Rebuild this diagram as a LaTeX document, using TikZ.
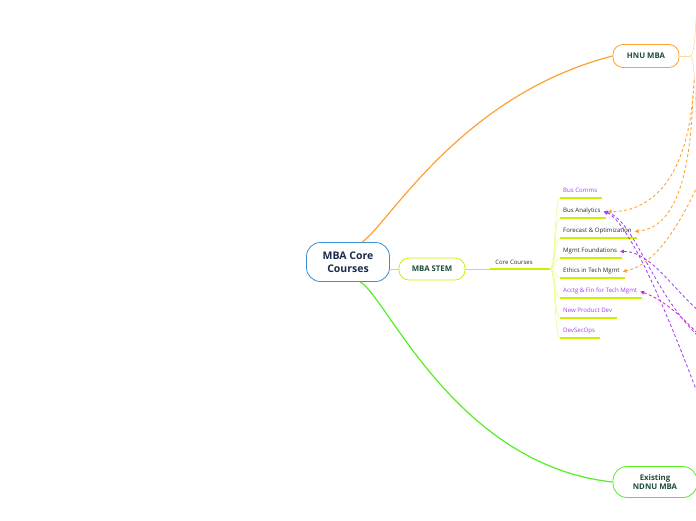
\documentclass[tikz,border=0pt]{standalone}
\usepackage{fontspec}
\setmainfont{Open Sans}
\usetikzlibrary{arrows.meta}

\definecolor{rootblue}{HTML}{3B8ED0}
\definecolor{navy}{HTML}{1B2B4B}
\definecolor{ink}{HTML}{1E4D3A}
\definecolor{limeline}{HTML}{CCF000}
\definecolor{limelight}{HTML}{E4FF8C}
\definecolor{orangeline}{HTML}{FFA030}
\definecolor{orangelight}{HTML}{FFD9A8}
\definecolor{greenline}{HTML}{55EE22}
\definecolor{violetline}{HTML}{A040F0}
\definecolor{magentaline}{HTML}{E020C0}
\definecolor{textgrey}{HTML}{2A2A2A}

\begin{document}
\begin{tikzpicture}[x=1pt,y=-1pt,
  topic/.style={draw,line width=.8pt,rounded corners=10pt,fill=white,align=center,
    font=\bfseries\fontsize{7.8}{9.5}\selectfont,text=ink},
  sub/.style={anchor=south west,inner xsep=3pt,inner ysep=3pt,text height=4.4pt,text depth=2.2pt,
    font=\fontsize{6.1}{7}\selectfont},
  uline/.style={limeline,line width=1.4pt},
  twig/.style={limelight,line width=.6pt},
  link/.style={dashed,dash pattern=on 3pt off 2.4pt,line width=.85pt},
  >={Triangle[length=3.8pt,width=3.8pt]}]
\path[use as bounding box] (0,0) rectangle (696,520);

% main topics
\node[topic,draw=rootblue,minimum width=83pt,minimum height=39pt,rounded corners=14pt,
  font=\bfseries\fontsize{10.5}{12.5}\selectfont,text=navy] (root) at (348,262) {MBA Core\\Courses};
\node[topic,draw=limeline,minimum width=66pt,minimum height=22pt] (stem) at (432,269) {MBA STEM};
\node[topic,draw=orangeline,minimum width=66pt,minimum height=23pt] (hnu) at (646,56) {HNU MBA};
\node[topic,draw=greenline,minimum width=84pt,minimum height=31pt,rounded corners=14pt] (ndnu) at (655,482) {Existing\\NDNU MBA};

\draw[orangeline,line width=1.2pt] ([xshift=14pt]root.north) .. controls (388,225) and (460,95) .. (hnu.west);
\draw[greenline,line width=1.2pt] ([xshift=12pt]root.south) .. controls (386,295) and (455,465) .. (ndnu.west);
\draw[limeline,line width=.6pt] (root.east |- stem) -- (stem.west);

% HNU MBA branches (cut off)
\coordinate (hnuFan) at (690,56);
\draw[orangelight,line width=.6pt] (hnu.east) -- (hnuFan);
\draw[orangelight,line width=.6pt] (hnuFan) .. controls (694,56) and (695,40) .. (697,0);
\draw[orangelight,line width=.6pt] (hnuFan) .. controls (694,56) and (695,80) .. (697,140);

% core courses
\coordinate (coreL) at (490,269);
\coordinate (fan) at (550,269);
\node[font=\fontsize{6}{7}\selectfont,text=textgrey] (core) at (514,262) {Core Courses};
\draw[limeline,line width=.6pt] (stem.east) -- (coreL);
\draw[uline] (coreL) -- (fan);

\foreach \nm/\txt/\col/\yy in {comms/Bus Comms/violetline/198,
    analytics/Bus Analytics/textgrey/218,
    forecast/Forecast \& Optimization/textgrey/238,
    mgmt/Mgmt Foundations/textgrey/258,
    ethics/Ethics in Tech Mgmt/textgrey/278,
    acctg/Acctg \& Fin for Tech Mgmt/violetline/298,
    newprod/New Product Dev/violetline/318,
    devsecops/DevSecOps/violetline/338}{
  \node[sub,text=\col] (\nm) at (560,\yy) {\txt};
  \draw[twig] (fan) .. controls (556,269) and (554,\yy) .. (\nm.south west);
  \draw[uline] (\nm.south west) -- ([xshift=2pt]\nm.south east);
}

% relationship links
\coordinate (hnuA) at (694,80);
\coordinate (hnuB) at (693,95);
\coordinate (hnuC) at (700,180);
\coordinate (offA) at (700,400);
\coordinate (offB) at (700,338);
\coordinate (offC) at (700,312);
\coordinate (offD) at (700,336);
\draw[link,orangeline,->] (hnuA) .. controls (690,180) and (650,212) .. ([xshift=4pt]analytics.east);
\draw[link,orangeline,->] (hnuB) .. controls (690,190) and (670,228) .. (forecast.east);
\draw[link,orangeline,->] (hnuC) .. controls (680,225) and (655,265) .. (ethics.east);
\draw[link,violetline,<-] (analytics.east) .. controls (630,222) and (670,320) .. (offA);
\draw[link,violetline,<-] (analytics.east) .. controls (635,220) and (650,290) .. (offB);
\draw[link,violetline,<-] (mgmt.east) .. controls (650,251) and (672,288) .. (offC);
\draw[link,magentaline,<-] (acctg.east) .. controls (665,300) and (685,320) .. (offD);
\end{tikzpicture}
\end{document}
